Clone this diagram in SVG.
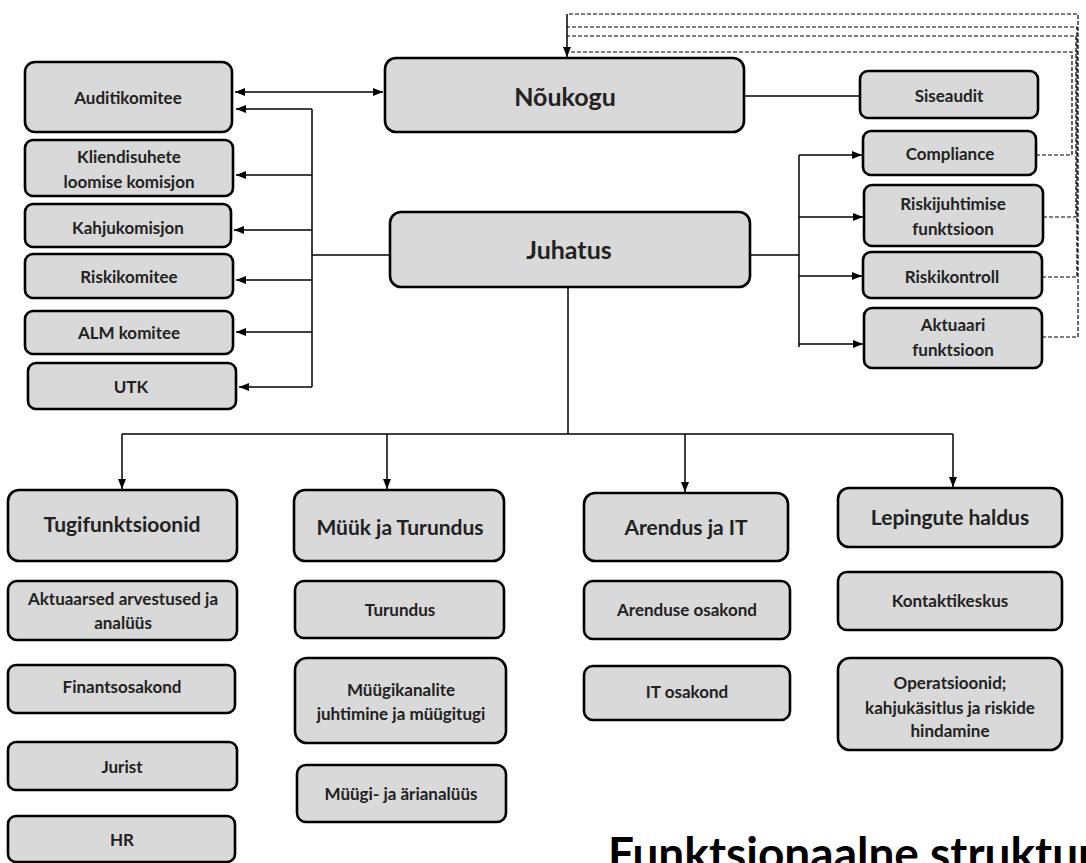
<svg xmlns="http://www.w3.org/2000/svg" width="1086" height="863" viewBox="0 0 1086 863">
<style>
.box{fill:#d9d9d9;stroke:#000;stroke-width:2.6}
.t{font-family:Lato,"Open Sans","Liberation Sans",sans-serif;font-weight:bold;fill:#222;text-anchor:middle}
.s{font-size:17px}
.m{font-size:25px}
.h{font-size:21px}
.ln{fill:none;stroke:#000;stroke-width:1.5}
.ds{fill:none;stroke:#000;stroke-width:1.2;stroke-dasharray:4,2}
</style>
<defs>
<marker id="ar" markerUnits="userSpaceOnUse" markerWidth="10" markerHeight="10" refX="10" refY="5" orient="auto-start-reverse" viewBox="0 0 10 10">
<path d="M0,1 L10,5 L0,9 z" fill="#000"/>
</marker>
</defs>
<rect width="1086" height="863" fill="#fff"/>
<g id="connectors">
<path class="ln" d="M235,92 H383" marker-start="url(#ar)" marker-end="url(#ar)"/>
<path class="ln" d="M390,255 H312 V387"/>
<path class="ln" d="M312,109 H236" marker-end="url(#ar)"/>
<path class="ln" d="M312,109 V255"/>
<path class="ln" d="M312,175 H236" marker-end="url(#ar)"/>
<path class="ln" d="M312,230 H234" marker-end="url(#ar)"/>
<path class="ln" d="M312,280 H236" marker-end="url(#ar)"/>
<path class="ln" d="M312,332 H236" marker-end="url(#ar)"/>
<path class="ln" d="M312,387 H239" marker-end="url(#ar)"/>
<path class="ln" d="M744,96 H860"/>
<path class="ln" d="M750,255 H799"/>
<path class="ln" d="M799,155 V347"/>
<path class="ln" d="M799,155 H862" marker-end="url(#ar)"/>
<path class="ln" d="M799,217 H863" marker-end="url(#ar)"/>
<path class="ln" d="M799,276 H862" marker-end="url(#ar)"/>
<path class="ln" d="M799,344 H863" marker-end="url(#ar)"/>
<path class="ln" d="M568,287 V434"/>
<path class="ln" d="M122,434 H953"/>
<path class="ln" d="M122,434 V489" marker-end="url(#ar)"/>
<path class="ln" d="M387,434 V489" marker-end="url(#ar)"/>
<path class="ln" d="M685,434 V492" marker-end="url(#ar)"/>
<path class="ln" d="M953,434 V487" marker-end="url(#ar)"/>
<path class="ds" d="M1036,155 H1072 V52 H567"/>
<path class="ds" d="M1043,217 H1076 V36 H567"/>
<path class="ds" d="M1042,277 H1077 V27 H567"/>
<path class="ds" d="M1042,337 H1078 V14 H567"/>
<path class="ln" d="M567,14 V57" marker-end="url(#ar)"/>
</g>
<g id="noukogu"><rect class="box" x="385" y="58" width="359" height="74" rx="11"/><text class="t m" x="565" y="106">Nõukogu</text></g>
<g id="juhatus"><rect class="box" x="390" y="212" width="360" height="75" rx="11"/><text class="t m" x="569" y="259">Juhatus</text></g>
<g id="auditikomitee"><rect class="box" x="25" y="62" width="207" height="70" rx="10"/><text class="t s" x="128" y="104">Auditikomitee</text></g>
<g id="kliendisuhete"><rect class="box" x="25" y="140" width="208" height="56" rx="8"/><text class="t s" x="129" y="163">Kliendisuhete</text><text class="t s" x="129" y="188">loomise komisjon</text></g>
<g id="kahjukomisjon"><rect class="box" x="25" y="204" width="206" height="43" rx="8"/><text class="t s" x="128" y="234">Kahjukomisjon</text></g>
<g id="riskikomitee"><rect class="box" x="25" y="254" width="208" height="44" rx="8"/><text class="t s" x="129" y="283">Riskikomitee</text></g>
<g id="alm"><rect class="box" x="25" y="311" width="208" height="43" rx="8"/><text class="t s" x="129" y="339">ALM komitee</text></g>
<g id="utk"><rect class="box" x="28" y="363" width="208" height="46" rx="8"/><text class="t s" x="131" y="393">UTK</text></g>
<g id="siseaudit"><rect class="box" x="860" y="71" width="178" height="47" rx="8"/><text class="t s" x="949" y="102">Siseaudit</text></g>
<g id="compliance"><rect class="box" x="863" y="131" width="173" height="44" rx="8"/><text class="t s" x="950" y="160">Compliance</text></g>
<g id="riskijuhtimise"><rect class="box" x="864" y="185" width="179" height="61" rx="8"/><text class="t s" x="953" y="210">Riskijuhtimise</text><text class="t s" x="953" y="235">funktsioon</text></g>
<g id="riskikontroll"><rect class="box" x="863" y="252" width="179" height="46" rx="8"/><text class="t s" x="952" y="283">Riskikontroll</text></g>
<g id="aktuaari"><rect class="box" x="864" y="308" width="178" height="60" rx="8"/><text class="t s" x="953" y="331">Aktuaari</text><text class="t s" x="953" y="356">funktsioon</text></g>
<g id="tugifunktsioonid"><rect class="box" x="8" y="490" width="229" height="71" rx="11"/><text class="t h" x="122" y="532">Tugifunktsioonid</text></g>
<g id="myyk"><rect class="box" x="294" y="490" width="210" height="71" rx="11"/><text class="t h" x="400" y="535">Müük ja Turundus</text></g>
<g id="arendus"><rect class="box" x="584" y="493" width="204" height="68" rx="11"/><text class="t h" x="686" y="535">Arendus ja IT</text></g>
<g id="lepingute"><rect class="box" x="838" y="488" width="224" height="59" rx="11"/><text class="t h" x="950" y="525">Lepingute haldus</text></g>
<g id="aktuaarsed"><rect class="box" x="8" y="581" width="229" height="59" rx="9"/><text class="t s" x="123" y="605">Aktuaarsed arvestused ja</text><text class="t s" x="123" y="629">analüüs</text></g>
<g id="finantsosakond"><rect class="box" x="8" y="665" width="227" height="48" rx="8"/><text class="t s" x="122" y="693">Finantsosakond</text></g>
<g id="jurist"><rect class="box" x="8" y="742" width="229" height="48" rx="8"/><text class="t s" x="122" y="773">Jurist</text></g>
<g id="hr"><rect class="box" x="8" y="816" width="227" height="46" rx="8"/><text class="t s" x="122" y="846">HR</text></g>
<g id="turundus"><rect class="box" x="295" y="581" width="209" height="57" rx="9"/><text class="t s" x="400" y="616">Turundus</text></g>
<g id="myygikanalite"><rect class="box" x="295" y="658" width="211" height="85" rx="12"/><text class="t s" x="401" y="696">Müügikanalite</text><text class="t s" x="401" y="720">juhtimine ja müügitugi</text></g>
<g id="myygianalyys"><rect class="box" x="297" y="765" width="209" height="57" rx="9"/><text class="t s" x="401" y="800">Müügi- ja ärianalüüs</text></g>
<g id="arenduseosakond"><rect class="box" x="584" y="581" width="206" height="58" rx="9"/><text class="t s" x="687" y="616">Arenduse osakond</text></g>
<g id="itosakond"><rect class="box" x="584" y="666" width="206" height="54" rx="9"/><text class="t s" x="687" y="698">IT osakond</text></g>
<g id="kontaktikeskus"><rect class="box" x="838" y="572" width="224" height="58" rx="9"/><text class="t s" x="950" y="607">Kontaktikeskus</text></g>
<g id="operatsioonid"><rect class="box" x="838" y="658" width="224" height="92" rx="12"/><text class="t s" x="950" y="689">Operatsioonid;</text><text class="t s" x="950" y="714">kahjukäsitlus ja riskide</text><text class="t s" x="950" y="737">hindamine</text></g>
<text x="608" y="870" font-family="Lato,'Open Sans','Liberation Sans',sans-serif" font-weight="bold" font-size="46" fill="#000">Funktsionaalne struktuur</text>
</svg>
